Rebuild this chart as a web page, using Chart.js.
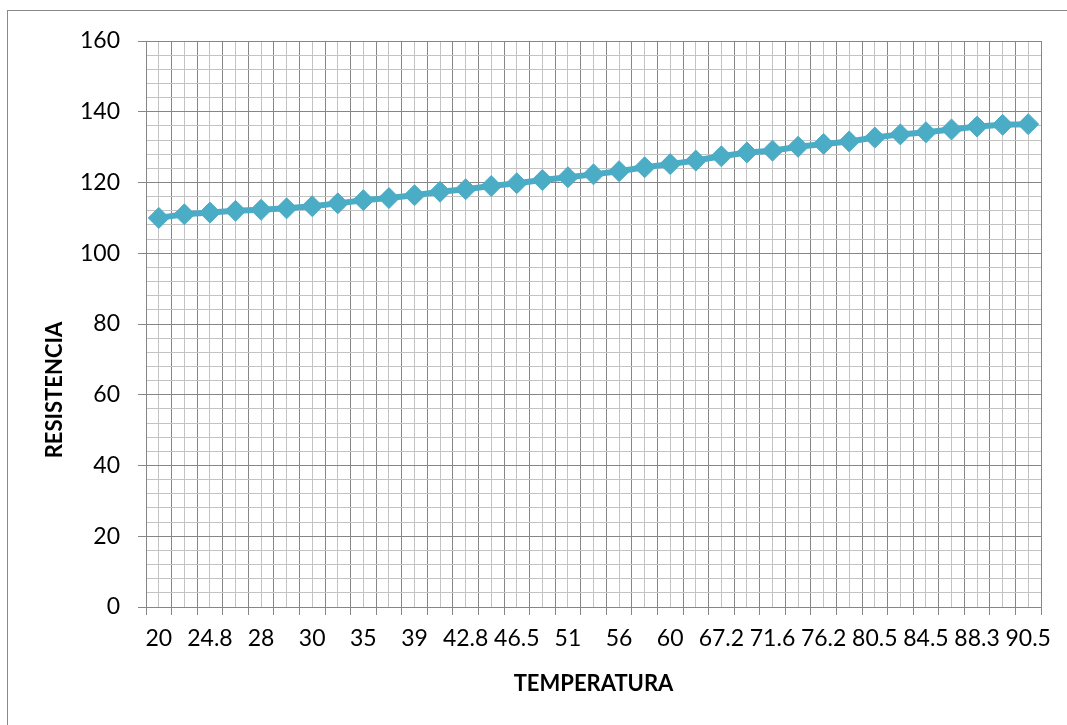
<!DOCTYPE html>
<html>
<head>
<meta charset="utf-8">
<script src="https://cdn.jsdelivr.net/npm/chart.js@4/dist/chart.umd.min.js"></script>
<style>
    html, body { margin: 0; padding: 0; background: #fff; overflow: hidden; }
    .frame { position: absolute; left: 7px; top: 10px; width: 2000px; height: 2000px; border: 1px solid #8a8a8a; }
    .wrap { position: absolute; left: 0; top: 0; width: 1067px; height: 725px; }
</style>
</head>
<body>
<div class="frame"></div>
<div class="wrap"><canvas id="tempChart"></canvas></div>
<script>
// --- Data ---
const temperatures = ['20', '22', '24.8', '26', '28', '29', '30', '32', '35', '37', '39', '41', '42.8', '44.6',
    '46.5', '48.7', '51', '53.5', '56', '58', '60', '63.6', '67.2', '69.4', '71.6', '73.9', '76.2', '78.3',
    '80.5', '82.5', '84.5', '86.4', '88.3', '89.4', '90.5'];
const resistance = [110, 111, 111.5, 112, 112.3, 112.7, 113.3, 114.1, 115, 115.6, 116.4, 117.4, 118.1, 119,
    119.8, 120.7, 121.5, 122.3, 123.2, 124.3, 125.2, 126.2, 127.4, 128.5, 129, 130.1, 130.9, 131.6,
    132.7, 133.6, 134.2, 135, 135.8, 136.3, 136.5];
const xTitle = 'TEMPERATURA';
const yTitle = 'RESISTENCIA';

const MAJOR = '#868686';
const MINOR = '#c3c3c3';
const SERIES = '#4bacc6';
const FONT = 'Lato, "Open Sans", sans-serif';

// y-axis title sits a bit lower than the axis center, like the original
const yTitlePlugin = {
    id: 'yTitle',
    afterDraw(chart) {
        const ctx = chart.ctx;
        ctx.save();
        ctx.translate(55, 390);
        ctx.rotate(-Math.PI / 2);
        ctx.font = 'bold 22px ' + FONT;
        ctx.fillStyle = '#000';
        ctx.textAlign = 'center';
        ctx.textBaseline = 'middle';
        ctx.fillText(yTitle, 0, 0);
        ctx.restore();
    }
};

new Chart(document.getElementById('tempChart').getContext('2d'), {
    type: 'line',
    data: {
        labels: temperatures,
        datasets: [{
            data: resistance,
            borderColor: SERIES,
            backgroundColor: SERIES,
            borderWidth: 6,
            pointStyle: 'rectRot',
            pointRadius: 10.5,
            pointHoverRadius: 10.5,
            pointBorderWidth: 1,
            tension: 0
        }]
    },
    options: {
        responsive: true,
        maintainAspectRatio: false,
        animation: false,
        layout: { padding: { left: 0, top: 41, right: 26, bottom: 0 } },
        plugins: { legend: { display: false }, tooltip: { enabled: false } },
        scales: {
            x: {
                type: 'category',
                offset: true,
                grid: { offset: true, color: MAJOR, tickColor: MAJOR, tickLength: 8 },
                border: { color: MAJOR },
                ticks: {
                    autoSkip: false,
                    maxRotation: 0,
                    padding: 10,
                    color: '#000',
                    font: { family: FONT, size: 23 },
                    callback: (v, i) => (i % 2 === 0 ? temperatures[i] : '')
                },
                title: {
                    display: true,
                    text: xTitle,
                    color: '#000',
                    font: { family: FONT, size: 22, weight: 'bold' },
                    padding: { top: 0, bottom: 28 }
                },
                afterFit: s => { s.height = 118; }
            },
            xMinor: {
                type: 'category',
                position: 'bottom',
                offset: true,
                z: -1,
                grid: { offset: false, color: MINOR, drawTicks: false },
                border: { display: false },
                ticks: { display: false },
                afterFit: s => { s.height = 0; }
            },
            y: {
                min: 0,
                max: 160,
                grid: {
                    color: c => (c.tick.value % 20 === 0 ? MAJOR : MINOR),
                    tickColor: c => (c.tick.value % 20 === 0 ? MAJOR : 'rgba(0,0,0,0)'),
                    tickLength: 8
                },
                border: { color: MAJOR },
                ticks: {
                    stepSize: 4,
                    autoSkip: false,
                    padding: 18,
                    color: '#000',
                    font: { family: FONT, size: 23 },
                    callback: v => (v % 20 === 0 ? v : '')
                },
                afterFit: s => { s.width = 146; }
            }
        }
    },
    plugins: [yTitlePlugin]
});
</script>
</body>
</html>
